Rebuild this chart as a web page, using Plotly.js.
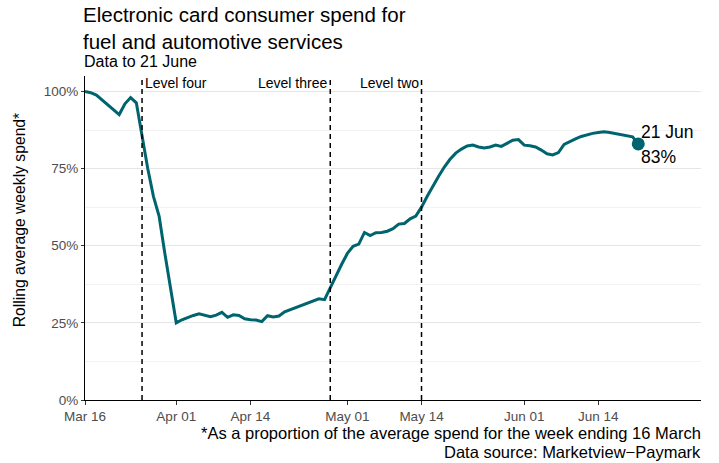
<!DOCTYPE html>
<html>
<head>
<meta charset="utf-8">
<script src="https://cdn.plot.ly/plotly-3.0.1.min.js"></script>
<style>html,body{margin:0;padding:0;background:#fff;}#chart{width:719px;height:463px;}</style>
</head>
<body>
<div id="chart"></div>
<script>
// Daily rolling average weekly spend (% of week ending 16 March), starting 16 March 2020
const startDate = '2020-03-16';
const spend = [
  100, 99.6, 98.8, 97.2, 95.6, 94.0, 92.5, 96.0, 98.0, 96.3,
  85.5, 75.0, 66.0, 59.5, 47.5, 36.0, 25.0, 26.0, 26.8, 27.4,
  27.9, 27.5, 27.0, 27.5, 28.4, 26.8, 27.6, 27.4, 26.3, 26.0,
  25.9, 25.4, 27.3, 26.9, 27.2, 28.6, 29.3, 30.0, 30.8, 31.6,
  32.2, 32.8, 32.5, 36.5, 40.0, 44.0, 47.5, 49.8, 50.5, 54.3,
  53.3, 54.2, 54.3, 54.7, 55.5, 57.0, 57.2, 58.7, 59.6, 62.5,
  66.0, 69.5, 72.5, 75.5, 78.0, 80.0, 81.3, 82.3, 82.6, 82.0,
  81.7, 82.0, 82.6, 82.2, 83.3, 84.2, 84.4, 82.6, 82.4, 82.0,
  81.0, 79.8, 79.4, 80.2, 82.8, 83.8, 84.6, 85.4, 86.0, 86.4,
  86.7, 86.9, 86.7, 86.3, 85.9, 85.7, 85.3, 83.0
];
const endDate = '2020-06-21';
const endLabel = '21 Jun';

const levelDates = ['2020-03-26', '2020-04-28', '2020-05-14'];
const levelNames = ['Level four', 'Level three', 'Level two'];
const levelSides = ['left', 'right', 'right'];

const xTickVals = ['2020-03-16','2020-04-01','2020-04-14','2020-05-01','2020-05-14','2020-06-01','2020-06-14'];
const xTickText = ['Mar 16','Apr 01','Apr 14','May 01','May 14','Jun 01','Jun 14'];
const yTickVals = [0, 25, 50, 75, 100];
const yTickText = ['0%', '25%', '50%', '75%', '100%'];
const xRange = ['2020-03-16', '2020-07-02'];

const teal = '#00646f';
const font = 'Liberation Sans, Arial, sans-serif';
const endValue = spend[spend.length - 1];

const traces = [
  {
    type: 'scatter', mode: 'lines',
    x0: startDate, dx: 86400000, y: spend,
    line: {color: teal, width: 3},
    hoverinfo: 'skip', showlegend: false
  },
  {
    type: 'scatter', mode: 'markers',
    x: [endDate], y: [endValue],
    marker: {color: teal, size: 13},
    hoverinfo: 'skip', showlegend: false
  }
];

const shapes = levelDates.map(d => ({
  type: 'line', xref: 'x', yref: 'paper', x0: d, x1: d, y0: 0, y1: 1,
  line: {color: '#000', width: 1.5, dash: '5px,4px'}
}));

const annotations = levelDates.map((d, i) => ({
  x: d, xref: 'x', y: 0.978, yref: 'paper',
  text: levelNames[i], showarrow: false,
  xanchor: levelSides[i], yanchor: 'middle',
  xshift: levelSides[i] === 'left' ? 1 : -1,
  font: {family: font, size: 14, color: '#000'}
}));

annotations.push(
  {x: endDate, xref: 'x', y: endValue, yref: 'y', text: endLabel, showarrow: false,
   xanchor: 'left', yanchor: 'middle', xshift: 1, yshift: 12,
   font: {family: font, size: 17.5, color: '#000'}},
  {x: endDate, xref: 'x', y: endValue, yref: 'y', text: Math.round(endValue) + '%', showarrow: false,
   xanchor: 'left', yanchor: 'middle', xshift: 1, yshift: -13,
   font: {family: font, size: 17.5, color: '#000'}},
  {x: 0, xref: 'paper', y: (400 - 61) / 324, yref: 'paper', yanchor: 'middle', xanchor: 'left',
   text: 'Data to 21 June', showarrow: false, xshift: -3,
   font: {family: font, size: 16, color: '#000'}},
  {x: (19 - 84.7) / 616.3, xref: 'paper', y: (400 - 220) / 324, yref: 'paper',
   xanchor: 'center', yanchor: 'middle', textangle: -90,
   text: 'Rolling average weekly spend*', showarrow: false,
   font: {family: font, size: 15.7, color: '#000'}},
  {x: 1, xref: 'paper', y: -(433 - 400) / 324, yref: 'paper', xanchor: 'right', yanchor: 'middle',
   text: '*As a proportion of the average spend for the week ending 16 March', showarrow: false,
   xshift: 2,
   font: {family: font, size: 16.5, color: '#000'}},
  {x: 1, xref: 'paper', y: -(452 - 400) / 324, yref: 'paper', xanchor: 'right', yanchor: 'middle',
   text: 'Data source: Marketview\u2212Paymark', showarrow: false,
   xshift: 2,
   font: {family: font, size: 16.5, color: '#000'}}
);

const layout = {
  width: 719, height: 463,
  margin: {l: 84.7, r: 18, t: 76, b: 63},
  paper_bgcolor: '#fff', plot_bgcolor: '#fff',
  font: {family: font, color: '#000'},
  title: {
    text: 'Electronic card consumer spend for<br>fuel and automotive services',
    x: 83/719, xref: 'container', xanchor: 'left',
    y: 1 - 22/463, yref: 'container', yanchor: 'top',
    font: {family: font, size: 20.5, color: '#000'}
  },
  xaxis: {
    type: 'date', range: xRange,
    tickvals: xTickVals, ticktext: xTickText,
    showgrid: false, zeroline: false,
    showline: true, linecolor: '#000', linewidth: 1,
    ticks: 'outside', ticklen: 4, tickcolor: '#333', tickwidth: 1,
    tickfont: {family: font, size: 13.5, color: '#4d4d4d'}
  },
  yaxis: {
    range: [0, 105],
    tickvals: yTickVals, ticktext: yTickText,
    showgrid: true, gridcolor: '#e6e6e6', gridwidth: 1,
    minor: {dtick: 12.5, tick0: 0, showgrid: true, gridcolor: '#f2f2f2', gridwidth: 1, ticks: ''},
    zeroline: false, showline: true, linecolor: '#000', linewidth: 1,
    ticks: 'outside', ticklen: 3, tickcolor: '#333', tickwidth: 1,
    tickfont: {family: font, size: 13.5, color: '#4d4d4d'}
  },
  shapes: shapes,
  annotations: annotations,
  showlegend: false
};

Plotly.newPlot('chart', traces, layout, {staticPlot: true, displayModeBar: false});
</script>
</body>
</html>
